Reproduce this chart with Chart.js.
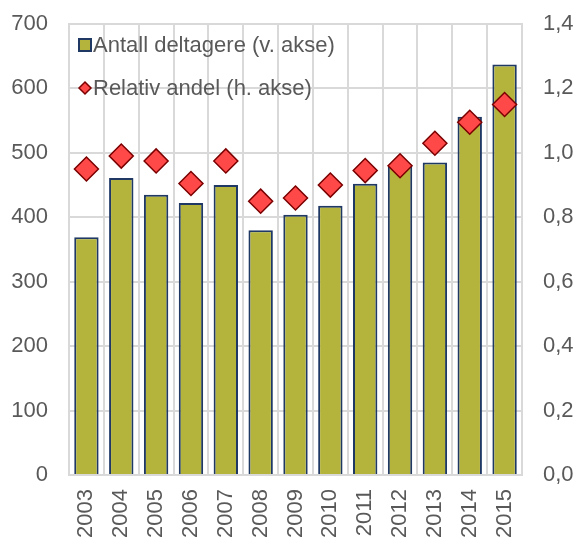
<!DOCTYPE html>
<html>
<head>
<meta charset="utf-8">
<script src="https://cdn.jsdelivr.net/npm/chart.js@4/dist/chart.umd.min.js"></script>
<style>
  html, body { margin: 0; padding: 0; background: #fff; }
  #wrap { width: 579px; height: 545px; position: relative; }
</style>
</head>
<body>
<div id="wrap"><canvas id="chart"></canvas></div>
<script>
const years = ["2003", "2004", "2005", "2006", "2007", "2008", "2009", "2010", "2011", "2012", "2013", "2014", "2015"]
const deltagere = [369, 461, 435, 422, 450, 380, 404, 418, 452, 480, 485, 556, 637]
const relativAndel = [0.95, 0.99, 0.975, 0.905, 0.975, 0.85, 0.86, 0.90, 0.945, 0.96, 1.03, 1.095, 1.15]
const leftTicks = [0, 100, 200, 300, 400, 500, 600, 700]
const rightTicks = [0, 0.2, 0.4, 0.6, 0.8, 1.0, 1.2, 1.4]

const textColor = "#595959"
const gridColor = "#d9d9d9"
const font = { family: "'Liberation Sans', Arial, sans-serif", size: 22 }

// legend drawn inside the plot area, like the original
const insideLegend = {
  id: "insideLegend",
  afterDatasetsDraw(chart) {
    const { ctx, chartArea } = chart
    const x = chartArea.left + 10
    const rows = [chartArea.top + 21, chartArea.top + 64]
    ctx.save()
    ctx.font = `${font.size}px ${font.family}`
    ctx.textBaseline = "middle"
    chart.data.datasets.forEach((ds, i) => {
      const y = rows[i]
      ctx.fillStyle = ds.backgroundColor
      ctx.strokeStyle = ds.borderColor
      ctx.lineWidth = 2
      if (ds.type === "bar") {
        ctx.fillRect(x, y - 6, 12, 12)
        ctx.strokeRect(x, y - 6, 12, 12)
      } else {
        ctx.lineWidth = 1.5
        ctx.beginPath()
        ctx.moveTo(x, y)
        ctx.lineTo(x + 6, y - 6)
        ctx.lineTo(x + 12, y)
        ctx.lineTo(x + 6, y + 6)
        ctx.closePath()
        ctx.fill()
        ctx.stroke()
      }
      ctx.fillStyle = textColor
      ctx.fillText(ds.label, x + 14, y + 1)
    })
    ctx.restore()
  }
}

new Chart(document.getElementById("chart"), {
  data: {
    labels: years,
    datasets: [
      {
        type: "bar",
        label: "Antall deltagere (v. akse)",
        data: deltagere,
        yAxisID: "y",
        backgroundColor: "#b4b43c",
        borderColor: "#1f3864",
        borderWidth: 2,
        categoryPercentage: 1,
        barPercentage: 0.7,
        order: 1
      },
      {
        type: "line",
        label: "Relativ andel (h. akse)",
        data: relativAndel,
        yAxisID: "y2",
        showLine: false,
        pointStyle: "rectRot",
        pointRadius: 12,
        backgroundColor: "#ff4848",
        borderColor: "#7a0000",
        borderWidth: 1.5,
        order: 0
      }
    ]
  },
  options: {
    responsive: true,
    maintainAspectRatio: false,
    animation: false,
    layout: { padding: { top: 24, left: 0, right: 0, bottom: 0 } },
    plugins: {
      legend: { display: false },
      tooltip: { enabled: false }
    },
    scales: {
      x: {
        grid: { color: gridColor, lineWidth: 2, drawTicks: false, offset: true },
        border: { color: gridColor, width: 2 },
        ticks: {
          color: textColor,
          font: font,
          maxRotation: 90,
          minRotation: 90,
          padding: 14
        },
        afterFit(scale) { scale.height = 70 }
      },
      y: {
        position: "left",
        min: 0,
        max: 700,
        afterBuildTicks(scale) { scale.ticks = leftTicks.map(v => ({ value: v })) },
        // invisible tick marks push the labels away from the plot
        grid: { color: gridColor, lineWidth: 2, drawTicks: true, tickLength: 20, tickColor: "rgba(0,0,0,0)" },
        border: { color: gridColor, width: 2 },
        ticks: { color: textColor, font: font, padding: 1 },
        afterFit(scale) { scale.width = 69 }
      },
      y2: {
        position: "right",
        min: 0,
        max: 1.4,
        afterBuildTicks(scale) { scale.ticks = rightTicks.map(v => ({ value: v })) },
        grid: { drawOnChartArea: false, drawTicks: true, tickLength: 20, tickColor: "rgba(0,0,0,0)" },
        border: { color: gridColor, width: 2 },
        ticks: {
          color: textColor,
          font: font,
          padding: 1,
          callback: v => v.toFixed(1).replace(".", ",")
        },
        afterFit(scale) { scale.width = 57 }
      }
    }
  },
  plugins: [insideLegend]
})
</script>
</body>
</html>
